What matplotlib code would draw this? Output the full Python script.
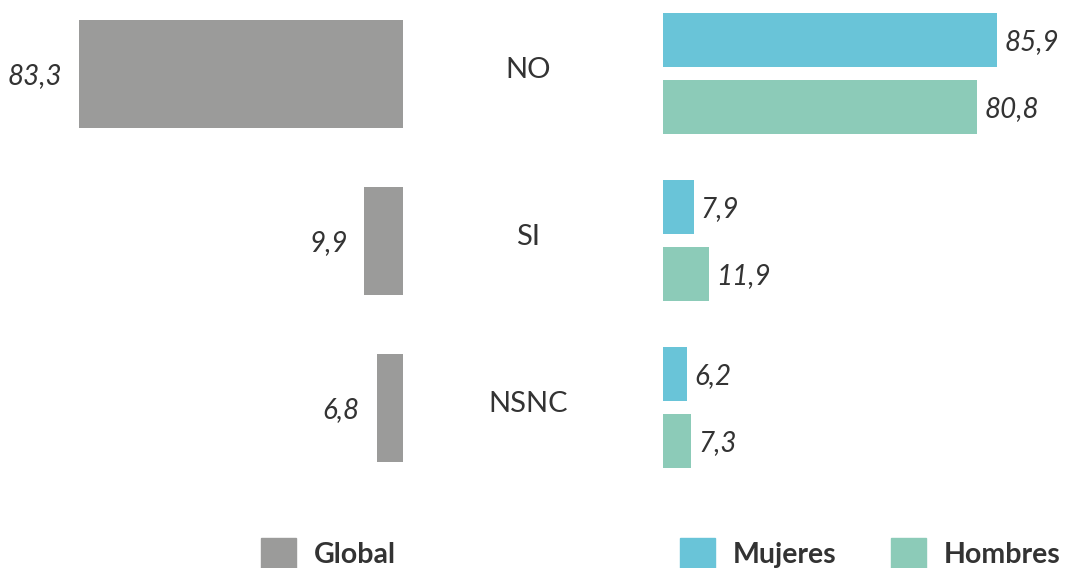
import matplotlib.pyplot as plt
from matplotlib.patches import Rectangle

# data
categories = ['NO', 'SI', 'NSNC']
global_vals = [83.3, 9.9, 6.8]
mujeres_vals = [85.9, 7.9, 6.2]
hombres_vals = [80.8, 11.9, 7.3]

c_global = '#9b9b9a'
c_muj = '#69c4d8'
c_hom = '#8ccbb8'
c_text = '#333333'

plt.rcParams['font.family'] = ['Lato', 'DejaVu Sans']

W, H = 1067, 568
fig = plt.figure(figsize=(W / 100, H / 100), dpi=100)

px_per_unit = 3.89
# y positions in pixels from top
y_cat = [74 + 167 * i for i in range(len(categories))]

# left axes: global bars growing to the left
axl = fig.add_axes([0, 0, 403 / W, 1])
axl.set_xlim(403 / px_per_unit, 0)
axl.set_ylim(H, 0)
axl.barh(y_cat, global_vals, height=108, color=c_global)
for y, v in zip(y_cat, global_vals):
    axl.annotate(f'{v:.1f}'.replace('.', ','), xy=(v, y + 10), xytext=(-12, 0),
                 textcoords='offset points', ha='right', va='baseline',
                 fontsize=20, style='italic', color=c_text)
axl.axis('off')

# right axes: mujeres / hombres bars growing to the right
axr = fig.add_axes([663 / W, 0, (W - 663) / W, 1])
axr.set_xlim(0, (W - 663) / px_per_unit)
axr.set_ylim(H, 0)
y_muj = [y - 34 for y in y_cat]
y_hom = [y + 33 for y in y_cat]
axr.barh(y_muj, mujeres_vals, height=54, color=c_muj)
axr.barh(y_hom, hombres_vals, height=54, color=c_hom)
for ys, vals in [(y_muj, mujeres_vals), (y_hom, hombres_vals)]:
    for y, v in zip(ys, vals):
        axr.annotate(f'{v:.1f}'.replace('.', ','), xy=(v, y + 10), xytext=(5, 0),
                     textcoords='offset points', ha='left', va='baseline',
                     fontsize=20, style='italic', color=c_text)
axr.axis('off')

# category labels in the middle
for cat, y in zip(categories, y_cat):
    fig.text(528 / W, 1 - (y + 4) / H, cat, ha='center', va='baseline',
             fontsize=21, color=c_text)

# legend
legend_items = [('Global', c_global, 261), ('Mujeres', c_muj, 680), ('Hombres', c_hom, 891)]
for label, col, x0 in legend_items:
    fig.add_artist(Rectangle((x0 / W, 0 - 4 / H), 35 / W, 34 / H,
                             transform=fig.transFigure, color=col))
    fig.text((x0 + 53) / W, 1 - 563 / H, label, ha='left', va='baseline',
             fontsize=20.5, fontweight='bold', color=c_text)

fig.savefig('out.png', dpi=100)
